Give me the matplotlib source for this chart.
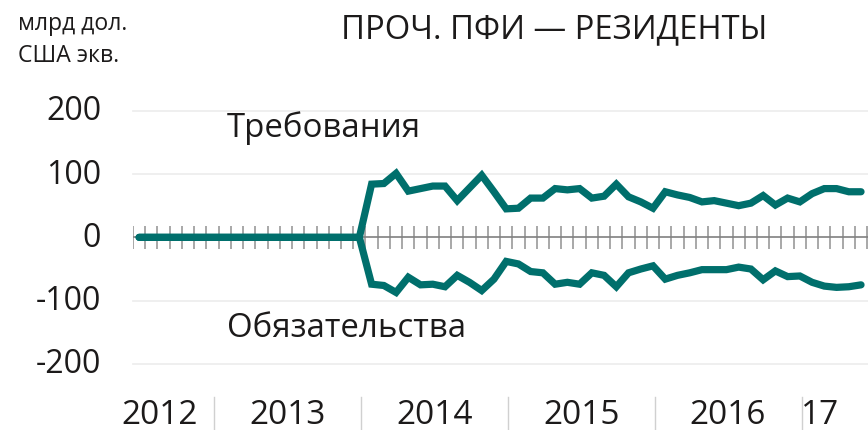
import matplotlib
matplotlib.use("Agg")
import matplotlib.pyplot as plt
import numpy as np

plt.rcParams['font.family'] = ['Open Sans', 'DejaVu Sans']

# monthly, June 2012 .. May 2017 (bn USD equivalent)
claims = [0] * 19 + [84, 85, 101, 73, 77, 81, 81, 58, 78, 98,
                     72, 45, 46, 62, 62, 77, 75, 77, 62, 65,
                     84, 64, 56, 46, 72, 67, 63, 56, 58, 54,
                     50, 54, 66, 51, 62, 56, 69, 77, 77, 72, 72]
liabilities = [0] * 19 + [-74, -76, -87, -63, -75, -74, -78, -60, -71, -84,
                          -66, -38, -42, -54, -56, -74, -71, -74, -56, -60,
                          -78, -56, -50, -45, -66, -60, -56, -51, -51, -51,
                          -47, -50, -67, -53, -62, -61, -71, -77, -79, -78, -75]
years = ['2012', '2013', '2014', '2015', '2016', '17']
yticks = [200, 100, 0, -100, -200]

teal = '#006f6c'
ink = '#1c1a1a'
x = np.arange(len(claims))

fig = plt.figure(figsize=(8.68, 4.31), dpi=100)
ax = fig.add_axes([133 / 868, 1 - 365 / 431, 1 - 133 / 868, (365 - 111.7) / 431])
ax.set_xlim(-0.5, 59.57)
ax.set_ylim(-200, 200)
for s in ax.spines.values():
    s.set_visible(False)
ax.set_xticks([])
ax.set_yticks([])

for v in yticks:
    if v != 0:
        ax.axhline(v, color='#ececec', lw=1.2, zorder=1, clip_on=False)
    fig.text(101 / 868, ax.transData.transform((0, v))[1] / 431, str(v),
             ha='right', va='center', fontsize=23, color=ink)

# month ticks on the zero line
bounds = np.arange(len(claims) + 1) - 0.5
ax.vlines(bounds, -18, 18, color='#9a9a9a', lw=1.2, zorder=2)
ax.axhline(0, color='#808080', lw=1.2, zorder=2)

ax.plot(x, claims, color=teal, lw=5.2, solid_capstyle='round',
        solid_joinstyle='miter', zorder=3, clip_on=False)
ax.plot(x, liabilities, color=teal, lw=5.2, solid_capstyle='round',
        solid_joinstyle='miter', zorder=3, clip_on=False)

# year separators and labels below the plot
seps = 6.15 + 12 * np.arange(5)
for s in seps:
    px = ax.transData.transform((s, 0))[0] / 868
    fig.add_artist(plt.Line2D([px, px], [0, 1 - 398 / 431], color='#d0d0d0', lw=1))
label_px = [160, 288, 435, 582, 728, 820]
for lab, px in zip(years, label_px):
    fig.text(px / 868, 1 - 416 / 431, lab, ha='center', va='center',
             fontsize=24, color=ink)

fig.text(227 / 868, 1 - 136.7 / 431, 'Требования', ha='left', va='baseline',
         fontsize=23.8, color=ink)
fig.text(227 / 868, 1 - 336.7 / 431, 'Обязательства', ha='left', va='baseline',
         fontsize=23.8, color=ink)
fig.text(554 / 868, 1 - 38.3 / 431, 'ПРОЧ. ПФИ — РЕЗИДЕНТЫ', ha='center',
         va='baseline', fontsize=23.6, color=ink)
fig.text(18 / 868, 1 - 30 / 431, 'млрд дол.', ha='left', va='baseline',
         fontsize=16.6, color=ink)
fig.text(18 / 868, 1 - 62 / 431, 'США экв.', ha='left', va='baseline',
         fontsize=16.6, color=ink)

fig.savefig('out.png', dpi=100)
